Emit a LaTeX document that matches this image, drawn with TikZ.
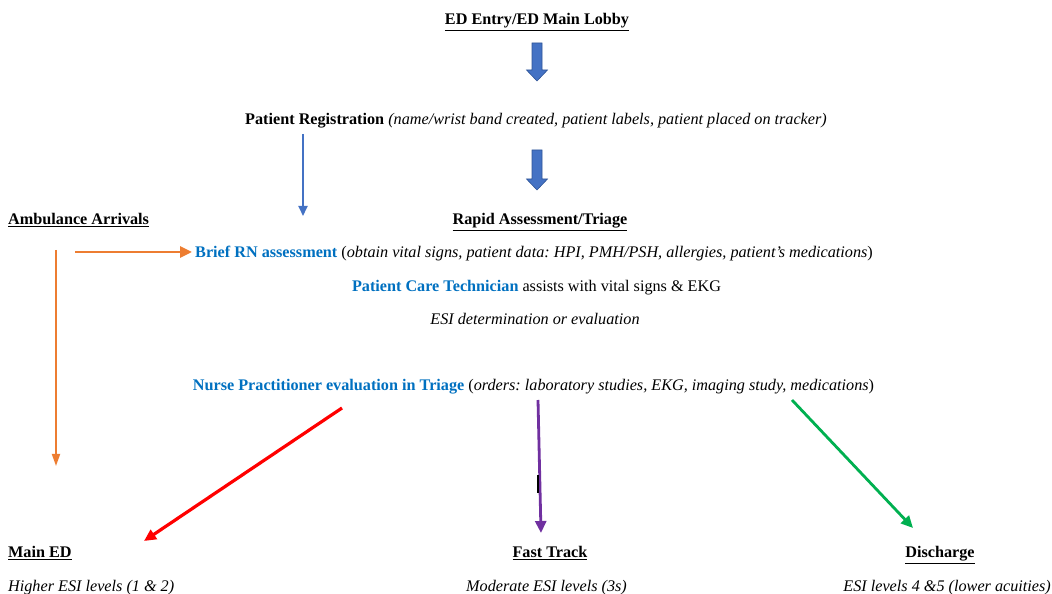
\documentclass[tikz,border=0pt]{standalone}
\usepackage{fontspec}
\setmainfont{Liberation Serif}
\usetikzlibrary{arrows.meta}
\frenchspacing
\definecolor{blk}{HTML}{4472C4}
\definecolor{blkd}{HTML}{2F5597}
\definecolor{txtblue}{HTML}{0070C0}
\definecolor{orng}{HTML}{ED7D31}
\definecolor{redc}{HTML}{FF0000}
\definecolor{purp}{HTML}{7030A0}
\definecolor{grn}{HTML}{00B050}
\tikzset{
  lbl/.style={inner sep=0pt, anchor=base, font=\fontsize{16.2}{19}\selectfont\frenchspacing},
  blockarrow/.style={fill=blk, draw=blkd, line width=0.6pt},
  arr/.style={-{Triangle[length=12pt,width=11pt]}}
}
\newcommand{\hd}[1]{\underline{\textbf{#1}}}
\begin{document}
\begin{tikzpicture}[x=1pt,y=1pt]
\useasboundingbox (0,0) rectangle (1052,594);
% text nodes
\node[lbl] (entry) at (537,569) {\hd{ED Entry/ED Main Lobby}};
\node[lbl] (reg) at (536,469) {\textbf{Patient Registration} \textit{(name/wrist band created, patient labels, patient placed on tracker)}};
\node[lbl,anchor=base west] (amb) at (8,369) {\hd{Ambulance Arrivals}};
\node[lbl] (rapid) at (540,369) {\hd{Rapid Assessment/Triage}};
\node[lbl,anchor=base west] (brief) at (195,336) {\textcolor{txtblue}{\textbf{Brief RN assessment}} (\textit{obtain vital signs, patient data: HPI, PMH/PSH, allergies, patient’s medications})};
\node[lbl] (pct) at (536.5,302) {\textcolor{txtblue}{\textbf{Patient Care Technician}} assists with vital signs \& EKG};
\node[lbl] (esi) at (535,269) {\textit{ESI determination or evaluation}};
\node[lbl] (np) at (533.5,203) {\textcolor{txtblue}{\textbf{Nurse Practitioner evaluation in Triage}} (\textit{orders: laboratory studies, EKG, imaging study, medications})};
\node[lbl,anchor=base west] (mained) at (8,36) {\hd{Main ED}};
\node[lbl] (fast) at (550,36) {\hd{Fast Track}};
\node[lbl] (dis) at (940,36) {\hd{Discharge}};
\node[lbl,anchor=base west] (higher) at (8,2.5) {\textit{Higher ESI levels (1 \& 2)}};
\node[lbl] (moder) at (546.5,2.5) {\textit{Moderate ESI levels (3s)}};
\node[lbl,anchor=base east] (low) at (1051,2.5) {\textit{ESI levels 4 \&5 (lower acuities)}};
% block arrows
\draw[blockarrow] (532,551) -- (542,551) -- (542,524) -- (547.5,524) -- (537,513) -- (526.5,524) -- (532,524) -- cycle;
\draw[blockarrow] (532,444) -- (542,444) -- (542,415) -- (547.5,415) -- (537,404) -- (526.5,415) -- (532,415) -- cycle;
% connector coordinates
\coordinate (bs) at (303,460);
\coordinate (be) at (303,378);
\coordinate (os) at (75,342);
\coordinate (oe1) at (192,342);
\coordinate (ov) at (56,344);
\coordinate (oe) at (56,128);
\coordinate (rs) at (342,186);
\coordinate (re) at (144,53);
\coordinate (ps) at (538,194);
\coordinate (pe) at (541,61);
\coordinate (ts) at (538,119);
\coordinate (te) at (538,101);
\coordinate (gs) at (792,194);
\coordinate (ge) at (913,66);
% connectors
\draw[-{Triangle[length=10pt,width=9pt]}, blk, line width=1.8pt] (bs) -- (be);
\draw[arr, orng, line width=2.8pt] (os) -- (oe1);
\draw[-{Triangle[length=12pt,width=8pt]}, orng, line width=1.8pt] (ov) -- (oe);
\draw[arr, redc, line width=3.2pt] (rs) -- (re);
\draw[arr, purp, line width=2.8pt] (ps) -- (pe);
\draw[black, line width=1.6pt] (ts) -- (te);
\draw[arr, grn, line width=2.8pt] (gs) -- (ge);
\end{tikzpicture}
\end{document}
